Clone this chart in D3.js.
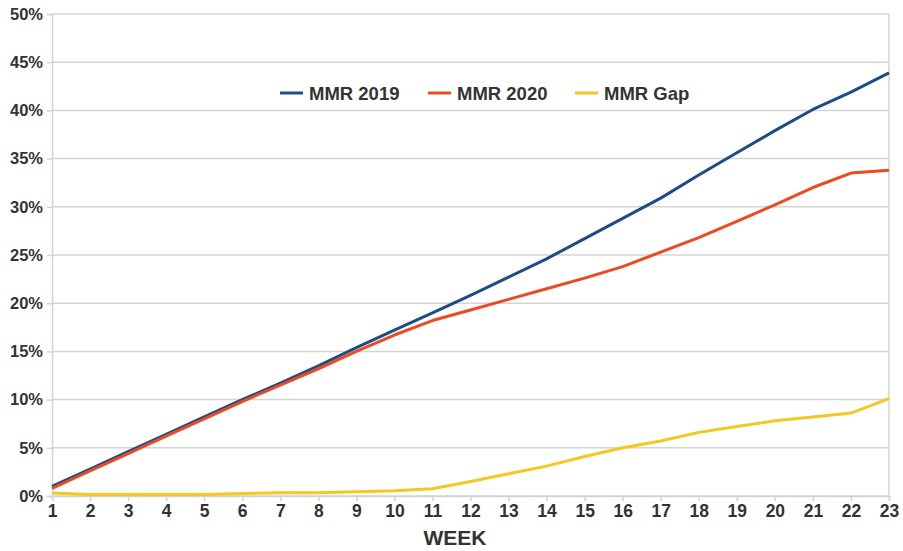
<!DOCTYPE html>
<html><head><meta charset="utf-8">
<script src="https://cdn.jsdelivr.net/npm/d3@7"></script>
<style>body{margin:0;background:#fff}svg{display:block}text{font-family:"Liberation Sans",Arial,sans-serif;font-weight:bold;fill:#333}</style>
</head><body><svg id="c" width="903" height="551"></svg>
<script>
const weeks = d3.range(1, 24);
const mmr2019 = [1.0,2.8,4.6,6.4,8.2,10.0,11.7,13.5,15.4,17.2,19.0,20.8,22.7,24.6,26.7,28.8,30.9,33.3,35.6,37.9,40.1,41.9,43.9];
const mmr2020 = [0.8,2.6,4.4,6.2,8.0,9.8,11.5,13.2,15.0,16.7,18.2,19.3,20.4,21.5,22.6,23.8,25.3,26.8,28.5,30.2,32.0,33.5,33.8];
const mmrGap  = [0.3,0.15,0.15,0.15,0.15,0.25,0.35,0.35,0.45,0.55,0.75,1.5,2.3,3.1,4.1,5.0,5.7,6.6,7.2,7.8,8.2,8.6,10.1];
const yTicks = [0,5,10,15,20,25,30,35,40,45,50];
const seriesNames = ["MMR 2019","MMR 2020","MMR Gap"];
const colors = ["#1d4c86","#ec4a20","#f4c81e"];

const svg = d3.select("#c");
const L=52,R=889,T=14,B=496;
const x = d3.scaleLinear().domain([1,23]).range([L,R]);
const y = d3.scaleLinear().domain([0,50]).range([B,T]);

svg.append("g").selectAll("line").data(yTicks).join("line")
  .attr("x1",L).attr("x2",R).attr("y1",d=>y(d)).attr("y2",d=>y(d))
  .attr("stroke","#d4d4d4").attr("stroke-width",1.5);
svg.append("line").attr("x1",R).attr("x2",R).attr("y1",T).attr("y2",B).attr("stroke","#d4d4d4").attr("stroke-width",1.5);

const yAxis = svg.append("g").attr("transform",`translate(${L},0)`)
  .call(d3.axisLeft(y).tickValues(yTicks).tickFormat(d=>d+"%").tickSize(5).tickPadding(4));
yAxis.select(".domain").attr("stroke","#d4d4d4").attr("stroke-width",1.5);
yAxis.selectAll(".tick line").attr("stroke","#d4d4d4").attr("stroke-width",1.5);
yAxis.selectAll("text").style("font-size","16.5px").attr("fill","#333");

const xAxis = svg.append("g").attr("transform",`translate(0,${B})`)
  .call(d3.axisBottom(x).tickValues(weeks).tickFormat(d3.format("d")).tickSize(5).tickPadding(4));
xAxis.select(".domain").attr("stroke","#d4d4d4").attr("stroke-width",1.5);
xAxis.selectAll(".tick line").attr("stroke","#d4d4d4").attr("stroke-width",1.5);
xAxis.selectAll("text").style("font-size","17.5px").attr("fill","#333");

svg.append("text").attr("x",455).attr("y",545).attr("text-anchor","middle").style("font-size","21px").text("WEEK");

const line = d3.line().x((d,i)=>x(weeks[i])).y(d=>y(d));
[mmr2019,mmr2020,mmrGap].forEach((s,i)=>{
  svg.append("path").datum(s).attr("d",line).attr("fill","none")
    .attr("stroke",colors[i]).attr("stroke-width",3).attr("stroke-linejoin","round");
});

const legX=[280,428,575];
seriesNames.forEach((n,i)=>{
  svg.append("line").attr("x1",legX[i]).attr("x2",legX[i]+23).attr("y1",93).attr("y2",93)
    .attr("stroke",colors[i]).attr("stroke-width",3);
  svg.append("text").attr("x",legX[i]+29).attr("y",100).style("font-size","18.5px").text(n);
});
</script></body></html>
